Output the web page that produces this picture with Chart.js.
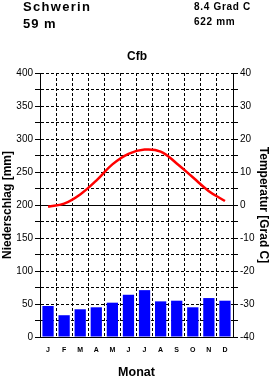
<!DOCTYPE html>
<html><head><meta charset="utf-8">
<script src="https://cdn.jsdelivr.net/npm/chart.js@4/dist/chart.umd.min.js"></script>
<style>
html,body{margin:0;padding:0;background:#fff;}
#wrap{position:relative;width:271px;height:377px;overflow:hidden;}
canvas{position:absolute;left:0;top:0;}
.t{position:absolute;font-family:"Liberation Sans",Arial,sans-serif;font-weight:bold;color:#000;white-space:nowrap;line-height:1;}
</style></head><body>
<div id="wrap">
<canvas id="c" width="271" height="377"></canvas>
<div class="t" style="left:23px;top:-0.5px;font-size:13px;letter-spacing:1.3px">Schwerin</div>
<div class="t" style="left:23px;top:17px;font-size:13px;letter-spacing:1px">59 m</div>
<div class="t" style="left:194px;top:1.5px;font-size:10px;letter-spacing:0.7px">8.4 Grad C</div>
<div class="t" style="left:194px;top:16.5px;font-size:10px;letter-spacing:0.7px">622 mm</div>
<div class="t" style="left:0;width:274px;text-align:center;top:49.5px;font-size:12px">Cfb</div>
</div>
<script>
const months = ["J","F","M","A","M","J","J","A","S","O","N","D"];
const precipitation = [47,33,42,45,52,64,71,54,55,45,59,55];
const temperature = [-0.5,0.4,3.2,7.4,12.3,15.5,16.8,16.2,12.6,8.4,4.2,1.2];
const precipTicks = {min:0, max:400, step:25, labelEvery:50};
const tempTicks = {min:-40, max:40, step:5, labelEvery:10};

const FONT = '"Liberation Sans", Arial, sans-serif';
new Chart(document.getElementById('c'), {
  data: {
    labels: months,
    datasets: [
      {type:'line', data: temperature, yAxisID:'y2', borderColor:'#ff0000', borderWidth:2.5,
       pointRadius:0, tension:0.4, fill:false, order:0},
      {type:'bar', data: precipitation, yAxisID:'y', backgroundColor:'#0000ff',
       barPercentage:0.7, categoryPercentage:1.0, order:1}
    ]
  },
  options: {
    responsive:false, animation:false,
    layout:{padding:{top:73,left:0,right:0,bottom:0}},
    plugins:{legend:{display:false}, tooltip:{enabled:false}},
    scales:{
      x:{
        grid:{color:'#000', lineWidth:1, drawTicks:false, offset:true},
        border:{display:true, color:'#000', width:1, dash:[3,2]},
        ticks:{font:{family:FONT, size:7, weight:'bold'}, color:'#000', padding:9, maxRotation:0, autoSkip:false},
        title:{display:true, text:'Monat', font:{family:FONT, size:12.5, weight:'bold', lineHeight:1}, color:'#000', padding:{top:0,bottom:-2}},
        afterFit(s){ s.height = 40; }
      },
      y:{
        position:'left', min:precipTicks.min, max:precipTicks.max,
        grid:{color:'#000', lineWidth:1, tickLength:5, tickBorderDash:[1,0]},
        border:{display:true, color:'#000', width:1,
          dash:(ctx)=> (ctx.tick && ctx.tick.value===200) ? [] : [3,2]},
        ticks:{stepSize:precipTicks.step, font:{family:FONT, size:10}, color:'#000', padding:2,
          callback:(v)=> v % precipTicks.labelEvery === 0 ? String(v) : ''},
        title:{display:true, text:'Niederschlag [mm]', font:{family:FONT, size:12, weight:'bold'}, color:'#000', padding:0},
        afterFit(s){ s.width = 40; }
      },
      y2:{
        position:'right', min:tempTicks.min, max:tempTicks.max,
        grid:{color:'#000', lineWidth:1, tickLength:5, drawOnChartArea:false},
        border:{display:true, color:'#000', width:1},
        ticks:{stepSize:tempTicks.step, font:{family:FONT, size:10}, color:'#000', padding:2,
          callback:(v)=> v % tempTicks.labelEvery === 0 ? String(v) : ''},
        title:{display:true, text:'Temperatur [Grad C]', font:{family:FONT, size:12, weight:'bold'}, color:'#000', padding:{top:0,bottom:0}},
        afterFit(s){ s.width = 38; }
      }
    }
  }
});
</script>
</body></html>
